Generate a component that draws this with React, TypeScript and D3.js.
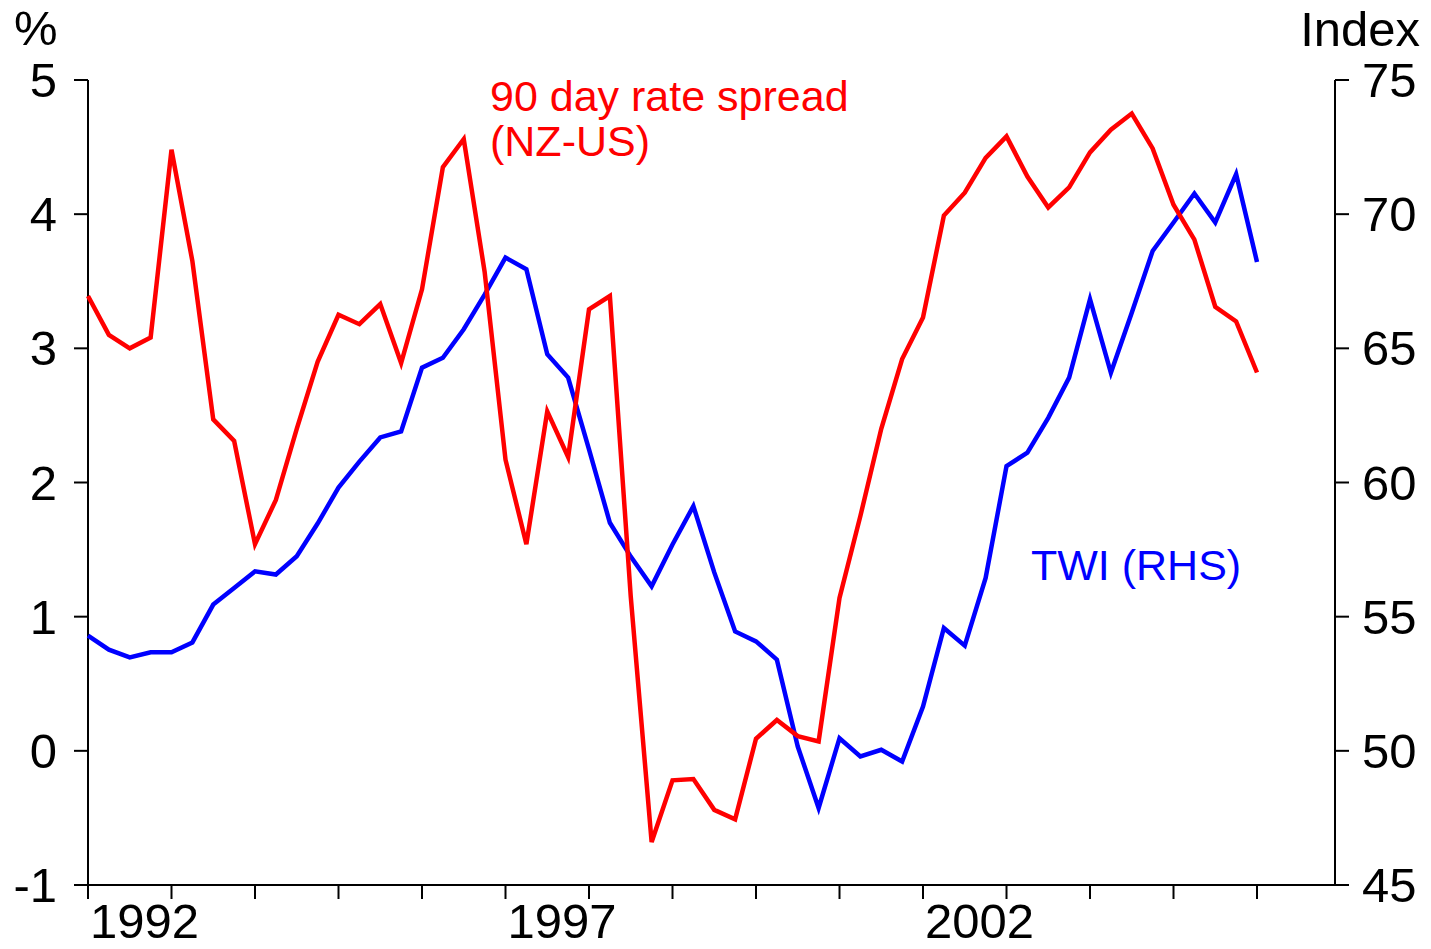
import React from "react";
import * as d3 from "d3";

const spread: number[] = [
  3.39, 3.10, 3.00, 3.08, 4.48, 3.65, 2.47, 2.31, 1.54, 1.87,
  2.40, 2.90, 3.25, 3.18, 3.33, 2.89, 3.44, 4.35, 4.56, 3.57,
  2.17, 1.54, 2.53, 2.19, 3.29, 3.39, 1.15, -0.68, -0.22, -0.21,
  -0.44, -0.51, 0.09, 0.23, 0.11, 0.07, 1.14, 1.75, 2.40, 2.92,
  3.23, 3.99, 4.16, 4.42, 4.58, 4.28, 4.05, 4.20, 4.46, 4.63,
  4.75, 4.49, 4.07, 3.81, 3.31, 3.20, 2.82,
];

const twi: number[] = [
  54.29, 53.77, 53.48, 53.67, 53.67, 54.04, 55.45, 56.07, 56.69, 56.57,
  57.25, 58.47, 59.81, 60.78, 61.68, 61.90, 64.28, 64.65, 65.71, 67.00,
  68.38, 67.95, 64.78, 63.91, 61.23, 58.50, 57.24, 56.13, 57.69, 59.12,
  56.65, 54.45, 54.08, 53.40, 50.16, 47.87, 50.47, 49.79, 50.04, 49.60,
  51.65, 54.58, 53.92, 56.44, 60.61, 61.11, 62.41, 63.91, 66.83, 64.09,
  66.33, 68.63, 69.69, 70.77, 69.69, 71.49, 68.22,
];

const startYear = 1992;
const yearTicks: number[] = d3.range(1992, 2007);
const yearLabels: number[] = [1992, 1997, 2002];
const leftTicks: number[] = [-1, 0, 1, 2, 3, 4, 5];
const rightTicks: number[] = [45, 50, 55, 60, 65, 70, 75];

const W = 1431;
const H = 949;
const L = 88;
const R = 1335;
const T = 80;
const B = 885;
const FONT = "'Liberation Sans', Arial, Helvetica, sans-serif";

export default function App() {
  const x = d3.scaleLinear().domain([1992, 2006.934]).range([L, R]);
  const yL = d3.scaleLinear().domain([-1, 5]).range([B, T]);
  const yR = d3.scaleLinear().domain([45, 75]).range([B, T]);
  const dateOf = (i: number) => startYear + i / 4;

  const redLine = d3
    .line<number>()
    .x((_, i) => x(dateOf(i)))
    .y((d) => yL(d));
  const blueLine = d3
    .line<number>()
    .x((_, i) => x(dateOf(i)))
    .y((d) => yR(d));

  return (
    <svg
      width={W}
      height={H}
      style={{ position: "absolute", left: 0, top: 0, background: "#fff" }}
      fontFamily={FONT}
    >
      <rect x={0} y={0} width={W} height={H} fill="#fff" />
      {/* axes */}
      <g stroke="#000" strokeWidth={2} fill="none">
        <line x1={L} y1={T} x2={L} y2={B} />
        <line x1={R} y1={T} x2={R} y2={B} />
        <line x1={L} y1={B} x2={R} y2={B} />
        {leftTicks.map((t) => (
          <line key={"l" + t} x1={L - 14} x2={L} y1={yL(t)} y2={yL(t)} />
        ))}
        {rightTicks.map((t) => (
          <line key={"r" + t} x1={R} x2={R + 14} y1={yR(t)} y2={yR(t)} />
        ))}
        {yearTicks.map((t) => (
          <line key={"x" + t} x1={x(t)} x2={x(t)} y1={B} y2={B + 14} />
        ))}
      </g>
      {/* tick labels */}
      <g fontSize={49} fill="#000">
        {leftTicks.map((t) => (
          <text key={"lt" + t} x={57} y={yL(t) + 17} textAnchor="end">
            {t}
          </text>
        ))}
        {rightTicks.map((t) => (
          <text key={"rt" + t} x={1362} y={yR(t) + 17} textAnchor="start">
            {t}
          </text>
        ))}
        {yearLabels.map((t) => (
          <text key={"xt" + t} x={x(t) + 2} y={938} textAnchor="start">
            {t}
          </text>
        ))}
        <text x={14} y={45}>%</text>
        <text x={1420} y={46} textAnchor="end">Index</text>
      </g>
      {/* series */}
      <path
        d={blueLine(twi) || ""}
        fill="none"
        stroke="#0000FF"
        strokeWidth={4.5}
        strokeLinejoin="miter"
      />
      <path
        d={redLine(spread) || ""}
        fill="none"
        stroke="#FF0000"
        strokeWidth={4.5}
        strokeLinejoin="miter"
      />
      {/* annotations */}
      <g fontSize={43}>
        <text x={490} y={111} fill="#FF0000">90 day rate spread</text>
        <text x={490} y={156} fill="#FF0000">(NZ-US)</text>
        <text x={1031} y={580} fill="#0000FF">TWI (RHS)</text>
      </g>
    </svg>
  );
}
